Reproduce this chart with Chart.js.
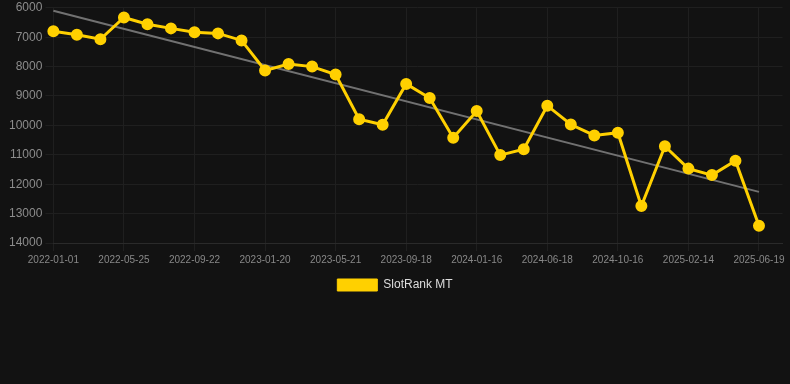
<!DOCTYPE html>
<html>
<head>
    <meta charset="utf-8">
    <title>SlotRank MT</title>
    <script src="https://cdn.jsdelivr.net/npm/chart.js"></script>
    <style>
        html, body {
            margin: 0;
            padding: 0;
            background: #121212;
        }
        .wrap {
            position: relative;
            width: 790px;
            height: 301px;
        }
    </style>
</head>
<body>
<div class="wrap">
    <canvas id="rankChart"></canvas>
</div>

<script>
    // dates of each snapshot (only every third one is labelled on the axis)
    const dates = [
        '2022-01-01', '2022-02-18', '2022-04-07', '2022-05-25', '2022-07-04', '2022-08-13',
        '2022-09-22', '2022-11-01', '2022-12-11', '2023-01-20', '2023-03-01', '2023-04-11',
        '2023-05-21', '2023-06-30', '2023-08-09', '2023-09-18', '2023-10-28', '2023-12-07',
        '2024-01-16', '2024-03-07', '2024-04-27', '2024-06-18', '2024-07-28', '2024-09-06',
        '2024-10-16', '2024-11-25', '2025-01-05', '2025-02-14', '2025-03-26', '2025-05-10',
        '2025-06-19', ''
    ];

    // rank values
    const slotRank = [
        6800, 6920, 7070, 6330, 6560, 6700, 6830, 6870, 7110, 8130,
        7910, 8000, 8270, 9790, 9980, 8590, 9070, 10420, 9510, 11010,
        10810, 9330, 9970, 10340, 10250, 12740, 10710, 11470, 11690, 11200,
        13410
    ];

    // trend line end points (first and last snapshot)
    const trendStart = 6100;
    const trendEnd = 12260;

    const rankTicks = [6000, 7000, 8000, 9000, 10000, 11000, 12000, 13000, 14000];
    const labelEvery = 3;

    const trend = slotRank.map((v, i) => {
        if (i === 0) return trendStart;
        if (i === slotRank.length - 1) return trendEnd;
        return null;
    });

    const gold = '#ffd000';

    new Chart(document.getElementById('rankChart'), {
        type: 'line',
        data: {
            labels: dates,
            datasets: [
                {
                    label: 'SlotRank MT',
                    data: slotRank,
                    borderColor: gold,
                    backgroundColor: gold,
                    borderWidth: 3,
                    pointRadius: 4.5,
                    pointBackgroundColor: gold,
                    pointBorderColor: gold,
                    tension: 0
                },
                {
                    label: 'trend',
                    data: trend,
                    borderColor: 'rgba(130,130,130,0.85)',
                    borderWidth: 2,
                    pointRadius: 0,
                    spanGaps: true,
                    tension: 0
                }
            ]
        },
        options: {
            responsive: true,
            maintainAspectRatio: false,
            animation: false,
            layout: {
                padding: { left: 6, right: 6, top: 0, bottom: 0 }
            },
            scales: {
                x: {
                    grid: { color: '#1f1f1f', tickColor: '#1f1f1f' },
                    border: { color: '#2a2a2a' },
                    ticks: {
                        autoSkip: false,
                        maxRotation: 0,
                        color: '#888888',
                        font: { size: 10 },
                        callback: function (value, index) {
                            if (index % labelEvery !== 0) return null;
                            return dates[index] || null;
                        }
                    }
                },
                y: {
                    reverse: true,
                    min: rankTicks[0],
                    max: rankTicks[rankTicks.length - 1],
                    afterBuildTicks: axis => {
                        axis.ticks = rankTicks.map(v => ({ value: v }));
                    },
                    grid: { color: '#1f1f1f', tickColor: '#1f1f1f' },
                    border: { display: false },
                    ticks: {
                        color: '#8c8c8c',
                        font: { size: 12, lineHeight: 0.8 },
                        callback: value => String(value)
                    }
                }
            },
            plugins: {
                legend: {
                    position: 'bottom',
                    labels: {
                        color: '#dddddd',
                        boxWidth: 40,
                        boxHeight: 12,
                        font: { size: 12 },
                        filter: item => item.datasetIndex === 0,
                        generateLabels: chart => Chart.defaults.plugins.legend.labels
                            .generateLabels(chart)
                            .map(item => Object.assign(item, { lineWidth: 1 }))
                    }
                },
                tooltip: { enabled: false }
            }
        }
    });
</script>
</body>
</html>
